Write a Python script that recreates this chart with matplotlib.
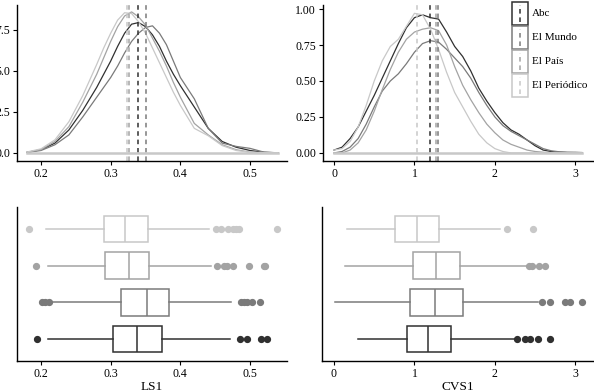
import numpy as np
import matplotlib.pyplot as plt
from matplotlib.patches import Rectangle
from matplotlib.lines import Line2D

plt.rcParams['font.family'] = ['Liberation Serif', 'DejaVu Serif']
plt.rcParams['font.size'] = 8.5

# grupos y colores
groups = ['Abc', 'El Mundo', 'El País', 'El Periódico']
colors = ['#303030', '#7a7a7a', '#a3a3a3', '#c8c8c8']

# densidad LS1
ls1_x = [0.18, 0.20, 0.22, 0.24, 0.26, 0.28, 0.29, 0.30, 0.31, 0.32, 0.33,
         0.34, 0.35, 0.36, 0.37, 0.38, 0.39, 0.40, 0.42, 0.44, 0.46, 0.48,
         0.50, 0.52, 0.54]
ls1_abc = [0.04, 0.2, 0.6, 1.4, 2.6, 4.0, 4.8, 5.6, 6.5, 7.3, 7.85,
           7.95, 7.7, 7.2, 6.5, 5.6, 4.8, 4.1, 2.8, 1.5, 0.7, 0.35,
           0.15, 0.04, 0.01]
ls1_mundo = [0.03, 0.15, 0.5, 1.1, 2.2, 3.4, 4.0, 4.6, 5.3, 6.1, 6.8,
             7.3, 7.65, 7.75, 7.3, 6.6, 5.6, 4.6, 3.3, 1.5, 0.6, 0.4,
             0.28, 0.05, 0.01]
ls1_pais = [0.04, 0.2, 0.7, 1.6, 3.1, 4.8, 5.8, 6.8, 7.7, 8.35, 8.6,
            8.3, 7.8, 7.0, 6.2, 5.3, 4.3, 3.4, 1.8, 1.1, 0.5, 0.2,
            0.05, 0.02, 0.01]
ls1_periodico = [0.06, 0.25, 0.8, 1.9, 3.5, 5.4, 6.4, 7.3, 8.1, 8.55, 8.5,
                 8.0, 7.3, 6.4, 5.5, 4.6, 3.7, 2.9, 1.5, 1.05, 0.45, 0.15,
                 0.04, 0.02, 0.01]
ls1_means = [0.339, 0.350, 0.326, 0.324]

# densidad CVS1
cvs1_x = [0.0, 0.1, 0.2, 0.3, 0.4, 0.5, 0.6, 0.7, 0.8, 0.9, 1.0, 1.1, 1.2,
          1.3, 1.4, 1.5, 1.6, 1.7, 1.8, 1.9, 2.0, 2.1, 2.2, 2.3, 2.4, 2.5,
          2.6, 2.7, 2.8, 2.9, 3.0, 3.08]
cvs1_abc = [0.02, 0.04, 0.1, 0.18, 0.29, 0.4, 0.52, 0.64, 0.76, 0.87, 0.94,
            0.96, 0.94, 0.93, 0.84, 0.74, 0.67, 0.57, 0.45, 0.36, 0.28, 0.21,
            0.16, 0.13, 0.09, 0.05, 0.02, 0.01, 0.005, 0.003, 0.002, 0.001]
cvs1_mundo = [0.0, 0.01, 0.04, 0.1, 0.2, 0.32, 0.43, 0.5, 0.55, 0.62, 0.7,
              0.76, 0.78, 0.77, 0.72, 0.66, 0.6, 0.52, 0.42, 0.33, 0.25,
              0.19, 0.15, 0.12, 0.09, 0.06, 0.03, 0.015, 0.008, 0.005,
              0.005, 0.003]
cvs1_pais = [0.0, 0.0, 0.02, 0.07, 0.16, 0.29, 0.44, 0.58, 0.7, 0.79, 0.84,
             0.86, 0.87, 0.85, 0.75, 0.6, 0.47, 0.37, 0.28, 0.2, 0.14, 0.09,
             0.06, 0.04, 0.02, 0.01, 0.005, 0.0, 0.0, 0.0, 0.0, 0.0]
cvs1_periodico = [0.02, 0.03, 0.08, 0.18, 0.33, 0.5, 0.64, 0.74, 0.79, 0.88,
                  0.97, 0.96, 0.86, 0.72, 0.56, 0.42, 0.32, 0.22, 0.13, 0.07,
                  0.03, 0.01, 0.0, 0.0, 0.0, 0.0, 0.0, 0.0, 0.0, 0.0, 0.0, 0.0]
cvs1_means = [1.19, 1.29, 1.27, 1.03]

# boxplots: (whislo, q1, med, q3, whishi, fliers)
ls1_box = [
    (0.2096, 0.304, 0.338, 0.373, 0.471, [0.195, 0.485, 0.495, 0.515, 0.525]),
    (0.2177, 0.315, 0.352, 0.384, 0.472, [0.2014, 0.206, 0.211, 0.487, 0.491,
                                          0.495, 0.503, 0.514]),
    (0.2105, 0.292, 0.326, 0.3555, 0.4435, [0.193, 0.452, 0.463, 0.467, 0.475,
                                            0.499, 0.520, 0.522]),
    (0.2067, 0.290, 0.321, 0.353, 0.4416, [0.183, 0.451, 0.458, 0.469, 0.476,
                                           0.480, 0.484, 0.538]),
]
cvs1_box = [
    (0.299, 0.909, 1.174, 1.452, 2.25, [2.28, 2.37, 2.44, 2.54, 2.68]),
    (0.008, 0.942, 1.253, 1.598, 2.54, [2.58, 2.68, 2.87, 2.93, 3.08]),
    (0.141, 0.983, 1.274, 1.568, 2.39, [2.43, 2.46, 2.55, 2.62]),
    (0.166, 0.755, 1.037, 1.307, 2.06, [2.15, 2.47]),
]

W, H = 594, 392
fig = plt.figure(figsize=(W / 100, H / 100), dpi=100)


def px_axes(l, r, t, b):
    return fig.add_axes([l / W, 1 - b / H, (r - l) / W, (b - t) / H])


def style(ax):
    for s in ['top', 'right']:
        ax.spines[s].set_visible(False)
    for s in ['left', 'bottom']:
        ax.spines[s].set_linewidth(1.0)
    ax.tick_params(length=3, width=0.8, pad=2, colors='black')


def density(ax, x, curves, means, xlim, ylim):
    for y, c in zip(curves, colors):
        ax.plot(x, y, color=c, lw=0.9)
    for m, c in zip(means, colors):
        ax.axvline(m, color=c, lw=1.1, ls=(0, (3, 2.5)))
    ax.plot([x[0], x[-1]], [0, 0], color='#c8c8c8', lw=1.8)
    ax.set_xlim(xlim)
    ax.set_ylim(ylim)
    style(ax)


def boxes(ax, data, xlim, label):
    for i, (lo, q1, med, q3, hi, fl) in enumerate(data):
        c = colors[i]
        st = [dict(whislo=lo, q1=q1, med=med, q3=q3, whishi=hi, fliers=fl)]
        ax.bxp(st, positions=[i + 1], widths=0.72, orientation='horizontal',
               showcaps=False, patch_artist=True,
               boxprops=dict(facecolor='white', edgecolor=c, lw=1.1),
               medianprops=dict(color=c, lw=1.1),
               whiskerprops=dict(color=c, lw=1.1),
               flierprops=dict(marker='o', markerfacecolor=c,
                               markeredgecolor=c, markersize=4.2))
    ax.set_xlim(xlim)
    ax.set_ylim(0.4, 4.6)
    ax.set_yticks([])
    ax.set_xlabel(label, labelpad=1, fontsize=9.5)
    style(ax)


ax1 = px_axes(17, 287, 5, 161)
density(ax1, ls1_x, [ls1_abc, ls1_mundo, ls1_pais, ls1_periodico], ls1_means,
        (0.1656, 0.553), (-0.49, 9.02))
ax1.set_xticks([0.2, 0.3, 0.4, 0.5])
ax1.set_yticks([0.0, 2.5, 5.0, 7.5])
ax1.set_yticklabels(['0.0', '2.5', '5.0', '7.5'])

ax2 = px_axes(323, 593, 5, 161)
density(ax2, cvs1_x, [cvs1_abc, cvs1_mundo, cvs1_pais, cvs1_periodico],
        cvs1_means, (-0.137, 3.22), (-0.056, 1.028))
ax2.set_xticks([0, 1, 2, 3])
ax2.set_yticks([0.0, 0.25, 0.5, 0.75, 1.0])
ax2.set_yticklabels(['0.00', '0.25', '0.50', '0.75', '1.00'])

ax3 = px_axes(17, 287, 207, 361)
boxes(ax3, ls1_box, (0.1656, 0.553), 'LS1')
ax3.set_xticks([0.2, 0.3, 0.4, 0.5])

ax4 = px_axes(322, 593, 207, 361)
boxes(ax4, cvs1_box, (-0.149, 3.22), 'CVS1')
ax4.set_xticks([0, 1, 2, 3])

# leyenda dibujada a mano
for i, (g, c) in enumerate(zip(groups, colors)):
    top = 2 + i * 24
    r = Rectangle((512 / W, 1 - (top + 23) / H), 16 / W, 23 / H,
                  transform=fig.transFigure, facecolor='white', edgecolor=c,
                  lw=1.1)
    fig.add_artist(r)
    fig.add_artist(Line2D([520 / W, 520 / W],
                          [1 - (top + 20) / H, 1 - (top + 3) / H],
                          transform=fig.transFigure, color=c, lw=1.1,
                          ls=(0, (3, 2.5))))
    fig.text(532 / W, 1 - (top + 11.5) / H, g, va='center', ha='left',
             fontsize=8)

fig.savefig('out.png', dpi=100)
